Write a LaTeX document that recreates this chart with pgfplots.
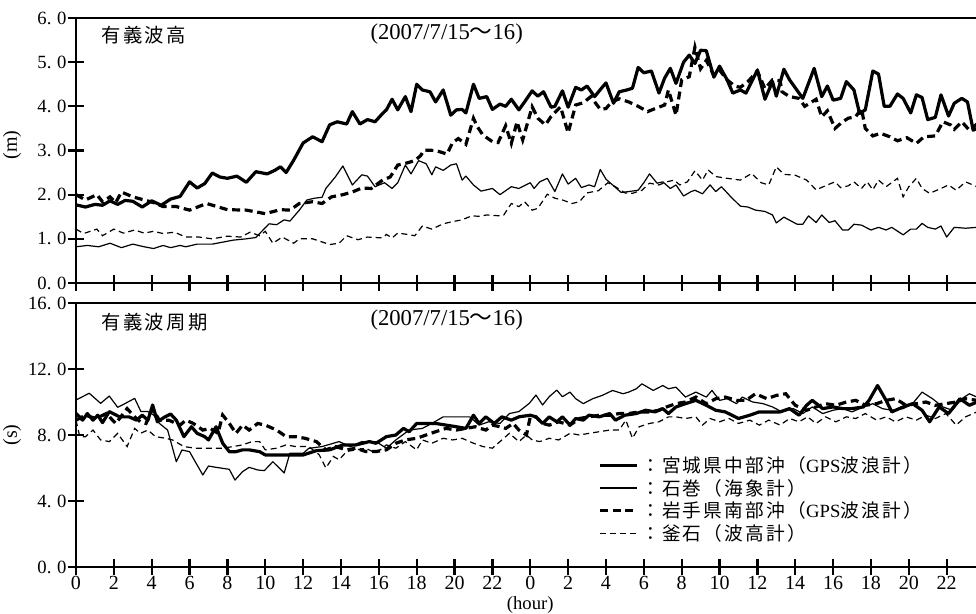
\documentclass[border=0pt]{standalone}
\usepackage{pgfplots}
\usepackage{pgfplotstable}
\pgfplotsset{compat=1.18}
\usepackage{fontspec}
\setmainfont{Liberation Serif}
\newfontfamily\jp[LetterSpace=12]{Noto Sans CJK JP}
\newfontfamily\jpplain{Noto Sans CJK JP}

% ---------- significant wave height (m) ----------
\pgfplotstableread{
h v
0 1.77
0.5 1.72
1.0 1.78
1.4 1.76
1.8 1.86
2.2 1.78
2.6 1.87
3.0 1.85
3.5 1.72
4.0 1.86
4.5 1.76
5.0 1.9
5.5 1.96
6.0 2.29
6.4 2.15
6.8 2.25
7.2 2.49
7.6 2.4
8.0 2.37
8.5 2.42
9.0 2.28
9.5 2.52
10.1 2.47
10.5 2.55
10.8 2.63
11.1 2.5
11.5 2.78
12.0 3.17
12.5 3.31
13.0 3.2
13.4 3.58
13.8 3.65
14.3 3.6
14.6 3.88
15.0 3.6
15.4 3.7
15.8 3.65
16.2 3.84
16.4 3.92
16.7 4.16
17.0 3.92
17.4 4.22
17.7 3.88
18.0 4.5
18.3 4.37
18.7 4.33
19.0 4.1
19.4 4.37
19.8 3.8
20.1 3.92
20.4 3.93
20.6 3.85
21.0 4.5
21.3 4.18
21.7 4.22
22.0 3.93
22.4 4.05
22.7 4.0
23.0 4.16
23.4 3.92
23.7 4.1
24.1 4.35
24.4 4.23
24.7 4.33
25.1 3.98
25.3 4.0
25.7 4.35
26.0 3.98
26.4 4.43
26.7 4.37
27.0 4.46
27.4 4.22
27.8 4.43
28.0 4.53
28.4 4.07
28.7 4.33
29.1 4.37
29.4 4.41
29.7 4.88
30.0 4.76
30.4 4.8
30.8 4.3
31.1 4.64
31.4 4.86
31.7 4.52
32.1 5.0
32.4 5.16
32.7 4.97
33.0 5.27
33.3 5.26
33.7 4.66
34.0 4.91
34.4 4.6
34.7 4.3
35.1 4.37
35.4 4.3
36.0 4.82
36.4 4.16
36.8 4.56
37.0 4.23
37.4 4.84
37.7 4.6
38.4 4.18
39.0 4.86
39.4 4.22
39.7 4.46
40.0 4.14
40.4 4.18
40.7 4.56
41.1 4.37
41.4 3.84
41.7 3.92
42.1 4.8
42.4 4.73
42.7 4.0
43.0 4.0
43.4 4.28
43.7 4.18
44.1 3.85
44.4 4.26
44.7 4.2
45.0 3.7
45.4 3.75
45.7 4.26
46.1 3.78
46.4 4.07
46.8 4.18
47.1 4.1
47.4 3.46
47.6 3.5
}\hMiyagi

\pgfplotstableread{
h v
0 0.82
0.6 0.85
1.2 0.82
1.8 0.9
2.4 0.8
3.0 0.88
3.6 0.82
4.1 0.78
4.6 0.85
5.0 0.8
5.5 0.85
5.8 0.82
6.4 0.88
7.2 0.88
8.3 0.97
9.0 1.0
9.5 1.03
10.2 1.34
10.6 1.32
11.0 1.43
11.3 1.4
11.8 1.65
12.2 1.88
12.6 1.92
13.0 1.94
13.2 2.14
13.7 2.4
14.1 2.65
14.6 2.22
15.1 2.45
15.4 2.42
15.8 2.18
16.3 2.27
16.7 2.14
17.0 2.27
17.4 2.67
17.7 2.47
18.1 2.77
18.5 2.7
18.8 2.45
19.0 2.63
19.4 2.55
19.8 2.67
20.1 2.7
20.4 2.33
20.6 2.42
21.0 2.22
21.4 2.08
22.0 2.14
22.4 2.0
23.0 2.18
23.4 2.14
24.0 2.27
24.2 2.14
24.5 2.29
24.9 2.37
25.3 2.07
25.7 2.47
26.0 2.24
26.4 2.37
26.7 2.16
27.1 2.22
27.4 2.18
27.7 2.57
28.0 2.35
28.4 2.2
28.8 2.05
29.2 2.07
29.7 2.1
30.0 2.27
30.3 2.47
30.7 2.26
31.0 2.29
31.4 2.14
31.7 2.22
32.1 1.97
32.5 2.07
32.7 2.1
33.1 2.02
33.5 2.22
33.8 2.07
34.1 2.18
34.6 1.95
35.1 1.74
35.5 1.72
35.9 1.65
36.4 1.62
36.8 1.54
37.0 1.36
37.4 1.49
38.1 1.33
38.4 1.33
38.7 1.52
39.1 1.37
39.4 1.54
39.8 1.37
40.1 1.41
40.5 1.2
40.8 1.2
41.1 1.33
41.5 1.31
42.0 1.2
42.4 1.26
42.8 1.2
43.1 1.26
43.7 1.09
44.1 1.22
44.4 1.22
44.7 1.35
45.0 1.26
45.4 1.22
45.7 1.29
46.0 1.04
46.4 1.26
47.0 1.24
47.6 1.26
}\hIshinomaki

\pgfplotstableread{
h v
0 2.0
0.5 1.88
1.1 2.0
1.4 1.84
1.8 1.95
2.1 1.82
2.4 2.06
3.0 1.95
3.6 1.88
4.1 1.82
4.6 1.73
5.3 1.73
6.0 1.65
6.9 1.8
8.0 1.66
9.0 1.65
10.0 1.57
10.8 1.66
11.3 1.65
11.8 1.8
12.5 1.84
13.0 1.8
13.5 1.95
14.1 2.0
14.6 2.06
15.1 2.15
15.6 2.14
16.2 2.33
16.6 2.4
17.0 2.67
17.5 2.72
17.9 2.77
18.2 2.88
18.4 3.01
19.0 3.0
19.6 2.92
19.9 3.18
20.2 3.27
20.6 3.14
21.0 3.73
21.2 3.54
21.5 3.35
22.0 3.2
22.3 3.18
22.7 3.56
23.0 3.16
23.3 3.65
23.6 3.24
24.1 3.99
24.4 3.73
24.8 3.58
25.1 3.77
25.6 3.99
26.0 3.4
26.4 4.03
26.8 4.08
27.2 4.22
27.7 3.93
28.0 3.95
28.3 4.1
28.7 4.17
29.2 4.1
29.7 4.0
30.2 3.88
30.6 3.95
31.1 4.03
31.3 4.37
31.7 3.8
32.0 4.6
32.4 4.67
32.7 5.34
33.0 4.85
33.3 5.04
33.7 4.7
34.0 4.82
34.4 4.6
34.8 4.46
35.1 4.43
35.5 4.56
36.0 4.8
36.4 4.4
36.8 4.6
37.2 4.58
37.3 4.33
37.7 4.22
38.2 4.18
38.5 4.0
39.1 4.16
39.4 3.76
39.7 3.9
40.1 3.5
40.5 3.65
40.8 3.73
41.2 3.77
41.5 3.95
41.7 3.5
42.1 3.33
42.5 3.39
43.0 3.31
43.4 3.22
43.9 3.29
44.4 3.16
44.8 3.31
45.4 3.33
45.8 3.65
46.2 3.58
46.4 3.48
46.8 3.65
47.2 3.46
47.6 3.6
}\hIwate

\pgfplotstableread{
h v
0 1.22
0.4 1.12
1.1 1.22
1.4 1.07
2.0 1.22
2.5 1.13
3.1 1.2
3.6 1.13
4.1 1.17
4.6 1.12
5.2 1.15
5.8 1.04
6.5 1.04
7.2 1.0
8.0 1.06
8.7 1.04
9.2 1.15
9.7 1.07
10.0 1.17
10.4 0.9
10.9 1.04
11.5 0.9
11.8 1.0
12.5 1.0
13.2 0.9
13.4 0.87
13.9 0.9
14.3 1.07
14.9 0.98
15.4 1.04
16.2 1.02
16.4 1.1
16.7 1.02
17.0 1.13
17.5 1.1
17.9 1.07
18.3 1.29
18.8 1.22
19.4 1.34
19.9 1.39
20.4 1.43
20.9 1.52
21.3 1.51
21.7 1.54
22.4 1.52
22.6 1.54
23.0 1.8
23.4 1.73
23.7 1.84
24.1 1.65
24.4 1.69
24.9 2.01
25.3 1.92
25.7 1.88
26.2 1.8
26.6 1.84
27.0 2.04
27.6 2.09
28.1 2.27
28.5 2.18
29.0 2.04
29.4 2.03
29.9 2.1
30.3 2.26
30.8 2.22
31.2 2.29
31.6 2.33
31.9 2.22
32.3 2.29
32.7 2.54
33.1 2.33
33.4 2.56
33.8 2.41
34.4 2.37
35.1 2.33
35.7 2.48
36.2 2.27
36.6 2.22
37.0 2.63
37.4 2.46
38.0 2.44
38.6 2.33
39.1 2.11
39.7 2.22
40.1 2.29
40.4 2.16
40.8 2.2
41.1 2.29
41.5 2.14
41.8 2.29
42.1 2.11
42.4 2.33
42.8 2.18
43.4 2.37
43.7 1.95
44.0 2.18
44.4 2.37
44.7 2.14
45.1 2.03
45.7 2.14
46.1 2.22
46.5 2.1
47.0 2.29
47.6 2.18
}\hKamaishi

% ---------- significant wave period (s) ----------
\pgfplotstableread{
h v
0 9.31
0.35 8.9
0.6 9.3
0.9 8.9
1.15 9.2
1.4 8.75
1.76 9.42
2.3 9.1
2.8 9.1
3.2 8.9
3.5 9.2
3.8 8.9
4.05 9.82
4.3 8.8
4.7 9.1
5.0 9.27
5.3 8.9
5.7 7.9
6.1 8.5
6.4 8.1
6.8 7.9
7.0 7.7
7.4 8.5
7.75 7.5
8.1 6.99
8.45 6.99
8.8 7.1
9.15 7.1
9.7 6.99
10.0 6.79
10.6 6.79
11.3 6.79
12.0 6.79
12.7 7.05
13.4 7.1
14.1 7.4
14.8 7.4
15.5 7.6
15.85 7.5
16.4 7.9
16.9 8.0
17.3 8.4
17.6 8.2
18.0 8.7
18.5 8.7
19.0 8.7
19.55 8.6
20.1 8.5
20.6 8.4
21.0 9.2
21.3 8.7
21.65 9.1
22.1 8.7
22.5 9.1
23.0 8.9
23.4 9.1
24.0 9.2
24.3 9.1
24.65 8.7
25.0 9.1
25.4 8.8
25.7 9.1
26.1 8.6
26.4 9.0
26.8 8.9
27.1 9.2
27.65 9.1
28.2 9.3
28.5 8.9
29.0 9.2
29.6 9.3
30.1 9.5
30.6 9.4
31.0 9.6
31.3 9.3
31.7 9.7
32.2 9.9
32.75 10.1
33.3 9.8
33.8 9.5
34.3 9.4
35.0 9.0
35.6 9.2
36.1 9.4
36.6 9.4
37.2 9.4
37.7 9.6
38.2 9.2
38.6 9.8
38.9 10.1
39.45 9.6
40.0 9.7
40.5 9.6
41.0 9.6
41.6 9.7
41.9 10.1
42.35 11.0
42.8 10.1
43.1 9.4
43.7 9.7
44.2 9.9
44.7 9.5
45.1 8.8
45.6 9.7
46.1 9.3
46.7 10.2
47.2 9.8
47.6 10.0
}\tMiyagi

\pgfplotstableread{
h v
0 10.12
0.7 10.53
1.3 9.92
1.76 10.36
2.2 9.68
2.55 9.88
3.1 10.22
3.43 9.42
3.8 9.42
4.1 9.21
4.4 8.71
4.84 8.3
5.3 6.38
5.6 7.09
6.0 6.99
6.3 6.38
6.7 5.58
7.0 6.12
7.4 6.04
7.75 5.98
8.1 5.92
8.4 5.27
8.8 5.78
9.15 6.04
9.6 5.88
9.95 5.84
10.4 6.38
10.7 6.04
11.0 5.7
11.3 6.9
12.0 6.89
12.3 7.19
13.0 7.3
13.9 7.6
14.5 7.3
15.1 7.6
15.85 7.6
16.4 7.2
16.9 7.7
17.6 8.3
18.3 8.4
18.8 8.7
19.4 9.1
20.1 9.1
20.8 9.1
21.3 8.6
21.8 8.8
22.4 8.7
22.9 9.3
23.4 9.42
23.95 9.92
24.3 10.42
24.65 9.82
25.0 10.32
25.4 10.72
25.7 10.32
26.1 10.6
26.4 10.2
26.8 9.9
27.3 10.2
27.8 10.4
28.35 10.7
28.9 10.5
29.2 10.6
29.6 10.8
29.9 11.1
30.5 10.7
31.0 11.0
31.3 10.8
31.7 10.9
32.2 10.3
32.75 10.6
33.3 10.3
33.6 10.7
34.0 10.1
34.4 10.2
34.9 9.9
35.2 10.3
35.75 10.0
36.3 9.9
36.8 9.7
37.3 9.4
37.9 9.6
38.4 9.3
38.9 9.7
39.45 9.3
40.0 9.5
40.5 9.6
41.0 9.4
41.6 9.7
42.1 9.9
42.6 9.6
43.1 9.5
43.7 9.6
44.2 9.9
44.7 10.6
45.25 10.2
45.8 9.7
46.3 9.5
46.8 10.2
47.2 10.5
47.6 10.3
}\tIshinomaki

\pgfplotstableread{
h v
0 8.9
0.5 9.2
1.05 9.0
1.6 9.3
2.1 8.7
2.5 9.3
2.7 9.6
3.1 9.1
3.4 8.8
3.7 8.7
4.05 9.6
4.4 8.9
4.9 8.9
5.5 8.6
5.8 8.9
6.2 8.7
6.7 8.3
7.1 8.4
7.5 8.1
7.75 9.21
8.1 8.7
8.45 8.1
8.8 8.6
9.15 8.3
9.6 8.7
10.0 8.6
10.6 8.3
11.1 7.9
11.6 7.9
12.1 7.8
12.7 7.6
13.2 7.1
13.7 7.3
14.3 7.1
14.8 7.2
15.3 7.0
15.85 7.0
16.4 7.1
16.9 7.5
17.4 7.7
18.0 7.8
18.5 8.0
19.0 8.2
19.55 8.4
20.1 8.3
20.6 8.4
21.1 8.5
21.65 8.3
22.0 8.6
22.4 8.5
22.7 8.4
23.1 8.7
23.4 8.3
23.8 8.0
24.0 9.1
24.3 9.1
24.65 8.7
25.0 8.6
25.5 8.8
26.1 8.6
26.6 9.0
27.1 9.1
27.65 9.2
28.2 9.2
28.7 9.3
29.2 9.3
29.75 9.4
30.3 9.4
30.8 9.5
31.2 9.7
31.7 9.9
32.2 10.0
32.75 10.3
33.3 9.9
33.8 10.2
34.3 10.3
34.9 10.1
35.4 10.1
35.9 10.5
36.5 10.2
37.0 10.4
37.5 10.5
38.0 9.8
38.6 9.5
39.1 9.7
39.6 9.9
40.15 9.8
40.7 10.0
41.2 10.1
41.7 9.8
42.3 9.9
42.8 10.1
43.3 10.2
43.85 9.8
44.4 9.9
44.9 10.0
45.4 9.8
45.96 9.9
46.5 10.0
47.0 10.2
47.6 10.1
}\tIwate

\pgfplotstableread{
h v
0 8.9
0.2 7.9
0.5 7.9
0.9 8.3
1.3 7.7
1.76 7.6
2.2 8.1
2.7 7.3
3.1 8.4
3.4 8.1
3.8 8.3
4.2 7.9
4.75 7.8
5.1 7.7
5.7 7.3
6.3 7.2
7.0 7.2
7.75 7.2
8.3 7.3
8.8 7.4
9.3 7.6
9.7 7.6
10.0 7.1
10.6 7.2
11.1 7.4
11.6 7.3
12.3 7.3
12.85 6.8
13.2 6.0
13.6 6.7
13.9 6.5
14.3 7.0
14.8 7.1
15.3 7.2
15.85 6.9
16.4 7.4
16.9 7.2
17.4 7.6
18.0 7.1
18.3 7.7
18.8 7.5
19.4 7.8
19.9 7.7
20.4 7.8
21.0 7.5
21.5 7.3
22.0 7.2
22.4 7.6
22.9 8.1
23.4 7.6
23.8 8.0
24.1 7.7
24.5 7.6
25.0 7.8
25.5 7.7
26.1 8.1
26.6 8.0
27.1 8.1
27.65 8.2
28.2 8.3
28.7 8.3
29.05 8.9
29.4 7.8
29.75 8.5
30.3 8.7
30.8 8.8
31.3 9.1
31.7 9.1
32.2 9.0
32.75 9.1
33.1 8.6
33.5 9.0
34.0 8.8
34.5 9.0
35.0 8.7
35.6 8.9
36.1 8.6
36.6 8.9
37.2 8.6
37.7 9.0
38.2 8.8
38.65 9.1
39.1 8.7
39.6 9.1
40.15 8.8
40.7 9.1
41.2 9.0
41.7 9.3
42.3 8.9
42.8 9.1
43.3 8.8
43.85 9.1
44.4 8.9
44.9 9.2
45.4 9.0
45.96 9.3
46.5 8.6
47.0 9.1
47.6 9.4
}\tKamaishi

\newcommand\dl[2]{#1.\hspace{0.3em}#2}

\pgfplotsset{
  panel/.style={
    scale only axis, width=675pt, height=198.75pt,
    xmin=0, xmax=47.55,
    clip mode=individual,
    axis x line=box, axis y line=left,
    axis line style={-, line width=2.2pt},
    x axis line style={-}, y axis line style={-},
    xtick={0,2,...,46},
    xtick pos=left, ytick pos=left,
    tick align=center,
    major tick length=12pt,
    major tick style={black, line width=1.7pt},
    yticklabel style={font=\fontsize{14}{14}\selectfont, inner sep=1pt},
    xticklabel style={font=\fontsize{15}{15}\selectfont, inner sep=1pt, yshift=0pt},
  },
  sMiyagi/.style={black, line width=2.4pt, line join=round},
  sIshi/.style={black, line width=0.9pt, line join=round},
  sIwate/.style={black, line width=2.4pt, dash pattern=on 6pt off 3.5pt},
  sKama/.style={black, line width=0.9pt, dash pattern=on 4.5pt off 3pt},
}

\begin{document}
\begin{tikzpicture}
\useasboundingbox (0,0) rectangle (732pt,-460.5pt);

% upper panel: significant wave height
\begin{axis}[panel,
  at={(57pt,-13.5pt)}, anchor=north west,
  ymin=0, ymax=6, ytick={0,1,...,6},
  yticklabels={\dl00,\dl10,\dl20,\dl30,\dl40,\dl50,\dl60},
  xticklabels={},
]
\addplot[sKama] table[x=h,y=v] {\hKamaishi};
\addplot[sIshi] table[x=h,y=v] {\hIshinomaki};
\addplot[sIwate] table[x=h,y=v] {\hIwate};
\addplot[sMiyagi] table[x=h,y=v] {\hMiyagi};
\node[anchor=west, font=\fontsize{14.5}{15}\jp] at (rel axis cs:0.0233,0.936) {有義波高};
\node[anchor=west, font=\fontsize{17}{17}\selectfont] at (rel axis cs:0.322,0.94) {(2007/7/15{\jpplain ～}16)};
\node[rotate=90, font=\fontsize{15}{15}\selectfont] at ([xshift=-48pt]rel axis cs:0,0.52) {(m)};
\end{axis}

% lower panel: significant wave period
\begin{axis}[panel,
  at={(57pt,-227.25pt)}, anchor=north west,
  height=198pt,
  ymin=0, ymax=16, ytick={0,4,...,16},
  yticklabels={\dl00,\dl40,\dl80,\dl{12}0,\dl{16}0},
  xticklabels={0,2,4,6,8,10,12,14,16,18,20,22,0,2,4,6,8,10,12,14,16,18,20,22},
  legend style={at={(0.58,0.43)}, anchor=north west, draw=none, fill=none,
    inner sep=0pt, row sep=-0.5pt, font=\fontsize{14}{15}\jp,
    cells={anchor=west}},
  legend image code/.code={\draw[#1] (0pt,0pt) -- (27.75pt,0pt);},
  legend cell align=left,
]
\addplot[sMiyagi, forget plot] table[x=h,y=v] {\tMiyagi};
\addplot[sIshi, forget plot] table[x=h,y=v] {\tIshinomaki};
\addplot[sIwate, forget plot] table[x=h,y=v] {\tIwate};
\addplot[sKama, forget plot] table[x=h,y=v] {\tKamaishi};
\addlegendimage{sMiyagi}
\addlegendentry{：宮城県中部沖（{\rmfamily GPS}波浪計）}
\addlegendimage{sIshi}
\addlegendentry{：石巻（海象計）}
\addlegendimage{sIwate}
\addlegendentry{：岩手県南部沖（{\rmfamily GPS}波浪計）}
\addlegendimage{sKama}
\addlegendentry{：釜石（波高計）}
\node[anchor=west, font=\fontsize{14.5}{15}\jp] at (rel axis cs:0.0233,0.928) {有義波周期};
\node[anchor=west, font=\fontsize{17}{17}\selectfont] at (rel axis cs:0.322,0.935) {(2007/7/15{\jpplain ～}16)};
\node[rotate=90, font=\fontsize{15}{15}\selectfont] at ([xshift=-48pt]rel axis cs:0,0.5) {(s)};
\node[font=\fontsize{14}{14}\selectfont, inner sep=0pt] at ([yshift=-28.3pt]axis cs:24,0) {(hour)};
\end{axis}
\end{tikzpicture}
\end{document}
